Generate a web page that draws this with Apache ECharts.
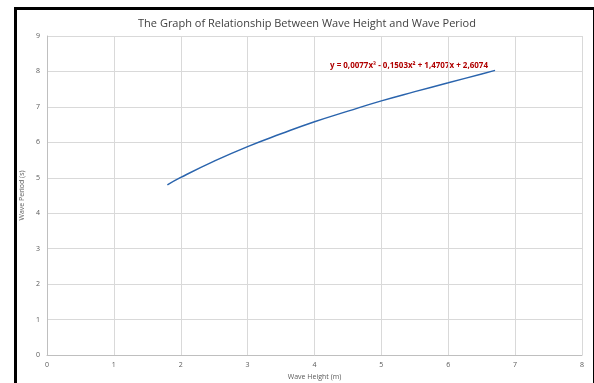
<!DOCTYPE html>
<html><head><meta charset="utf-8">
<script src="https://cdn.jsdelivr.net/npm/echarts@6/dist/echarts.min.js"></script>
<style>html,body{margin:0;padding:0;background:#fff;overflow:hidden}#c{width:594px;height:383px}</style>
</head><body><div id="c"></div>
<script>
var title = 'The Graph of Relationship Between Wave Height and Wave Period';
var xName = 'Wave Height (m)';
var yName = 'Wave Period (s)';
var equation = 'y = 0,0077x³ - 0,1503x² + 1,4707x + 2,6074';
var waveHeight = [1.8, 2.0, 2.5, 3.0, 3.5, 4.0, 4.5, 5.0, 5.5, 6.0, 6.5, 6.7];
var wavePeriod = [4.80, 5.01, 5.47, 5.88, 6.24, 6.58, 6.88, 7.17, 7.43, 7.68, 7.93, 8.03];
var xTicks = [0, 1, 2, 3, 4, 5, 6, 7, 8];
var yTicks = [0, 1, 2, 3, 4, 5, 6, 7, 8, 9];

var data = waveHeight.map(function (x, i) { return [x, wavePeriod[i]]; });
var font = 'Open Sans, Liberation Sans, sans-serif';
var chart = echarts.init(document.getElementById('c'), null, {renderer: 'canvas'});
chart.setOption({
  animation: false,
  backgroundColor: '#fff',
  title: {
    text: title, left: 302, top: 13, textAlign: 'center',
    textStyle: {fontFamily: font, fontSize: 11, fontWeight: 'normal', color: '#404040'}
  },
  grid: {left: 47, top: 36, right: 12, bottom: 28, containLabel: false, outerBoundsMode: 'none'},
  xAxis: {
    type: 'value', min: xTicks[0], max: xTicks[xTicks.length - 1], interval: 1,
    name: xName, nameLocation: 'middle', nameGap: 18,
    nameTextStyle: {fontFamily: font, fontSize: 7, color: '#595959'},
    axisLine: {show: true, lineStyle: {color: '#bfbfbf'}},
    axisTick: {show: false},
    axisLabel: {fontFamily: font, fontSize: 7, color: '#595959', margin: 6},
    splitLine: {show: true, lineStyle: {color: '#d9d9d9', width: 1}}
  },
  yAxis: {
    type: 'value', min: yTicks[0], max: yTicks[yTicks.length - 1], interval: 1,
    name: yName, nameLocation: 'middle', nameGap: 17, nameRotate: 90,
    nameTextStyle: {fontFamily: font, fontSize: 7, color: '#595959'},
    axisLine: {show: true, lineStyle: {color: '#bfbfbf'}},
    axisTick: {show: false},
    axisLabel: {fontFamily: font, fontSize: 7, color: '#595959', margin: 7},
    splitLine: {show: true, lineStyle: {color: '#d9d9d9', width: 1}}
  },
  series: [{
    type: 'line', data: data, smooth: true, symbol: 'none',
    lineStyle: {color: '#2a64ad', width: 1.5}
  }],
  graphic: [
    {type: 'rect', left: 13, top: 6, shape: {width: 579, height: 400},
     style: {fill: 'none', stroke: '#000', lineWidth: 3}, silent: true},
    {type: 'text', left: 330, top: 62,
     style: {text: equation, fill: '#b00000', font: 'bold 8px ' + font}}
  ]
});
</script></body></html>
